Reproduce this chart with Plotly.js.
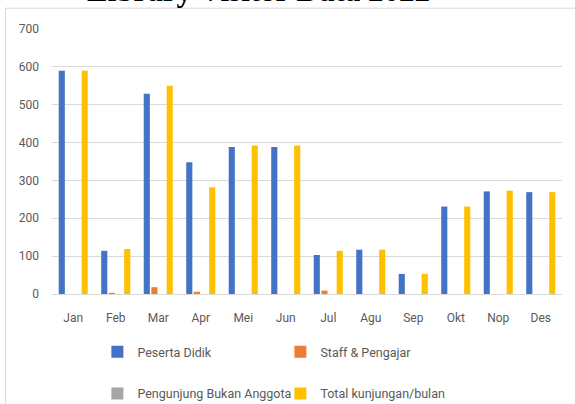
<!DOCTYPE html>
<html>
<head>
<meta charset="utf-8">
<script src="https://cdn.plot.ly/plotly-3.0.1.min.js"></script>
<style>html,body{margin:0;padding:0;background:#fff;}#chart{width:575px;height:404px;}</style>
</head>
<body>
<div id="chart"></div>
<script>
const months = ["Jan","Feb","Mar","Apr","Mei","Jun","Jul","Agu","Sep","Okt","Nop","Des"];
const pesertaDidik = [590, 114, 529, 348, 388, 388, 103, 117, 53, 231, 271, 269];
const staffPengajar = [0, 3, 18, 6, 0, 0, 9, 0, 0, 0, 0, 0];
const pengunjungBukanAnggota = [0, 0, 0, 0, 0, 0, 0, 0, 0, 0, 0, 0];
const totalKunjungan = [590, 119, 550, 282, 392, 392, 114, 117, 53, 231, 273, 269];
const yTicks = [0, 100, 200, 300, 400, 500, 600, 700];

const names = ["Peserta Didik","Staff & Pengajar","Pengunjung Bukan Anggota","Total kunjungan/bulan"];
const colors = ["#4472C4","#ED7D31","#A5A5A5","#FFC000"];
const series = [pesertaDidik, staffPengajar, pengunjungBukanAnggota, totalKunjungan];
const legends = ["legend","legend","legend2","legend2"];

const data = series.map((s,i)=>({
  type:"bar", x: months, y: s, name: names[i],
  marker:{color: colors[i]}, legend: legends[i], hoverinfo:"none"
}));

const tickFont = {family:"Roboto, 'Noto Sans', sans-serif", size:12, color:"#595959"};
const legendFont = {family:"Roboto, 'Noto Sans', sans-serif", size:12.5, color:"#595959"};
const legendCommon = {
  orientation:"h", xanchor:"left", yanchor:"middle",
  font: legendFont, bgcolor:"rgba(0,0,0,0)",
  entrywidthmode:"pixels", entrywidth:138, itemwidth:30
};

const layout = {
  width:575, height:404,
  margin:{l:51.5, r:13, t:29, b:110, pad:0, autoexpand:false},
  paper_bgcolor:"#fff", plot_bgcolor:"#fff",
  barmode:"group", bargap:0.28, bargroupgap:0.2,
  xaxis:{
    type:"category", showgrid:false, zeroline:false, showline:false,
    ticks:"", tickfont: tickFont, ticklabelstandoff:15, fixedrange:true
  },
  yaxis:{
    range:[0,700], tickvals: yTicks, ticktext: yTicks.map(String),
    showgrid:true, gridcolor:"#d9d9d9", gridwidth:1,
    zeroline:true, zerolinecolor:"#d9d9d9", zerolinewidth:1,
    showline:false, ticks:"", tickfont: tickFont, ticklabelstandoff:12, fixedrange:true
  },
  legend: Object.assign({x:0.089, y:-0.219}, legendCommon),
  legend2: Object.assign({x:0.089, y:-0.377}, legendCommon),
  showlegend:true,
  shapes:[{
    type:"rect", xref:"paper", yref:"paper",
    x0:-0.0911, x1:1.2, y0:-0.6, y1:1.0785,
    line:{color:"#d9d9d9", width:1}, fillcolor:"rgba(0,0,0,0)", layer:"below"
  }],
  annotations:[{
    text:"<b>Library Visitor Data 2022</b>", xref:"paper", yref:"paper",
    x:0.404, y:1.0735, xanchor:"center", yanchor:"bottom", showarrow:false,
    font:{family:"'Liberation Serif', 'Times New Roman', serif", size:31, color:"#000"}
  }]
};

Plotly.newPlot("chart", data, layout, {displayModeBar:false, staticPlot:true});
</script>
</body>
</html>
